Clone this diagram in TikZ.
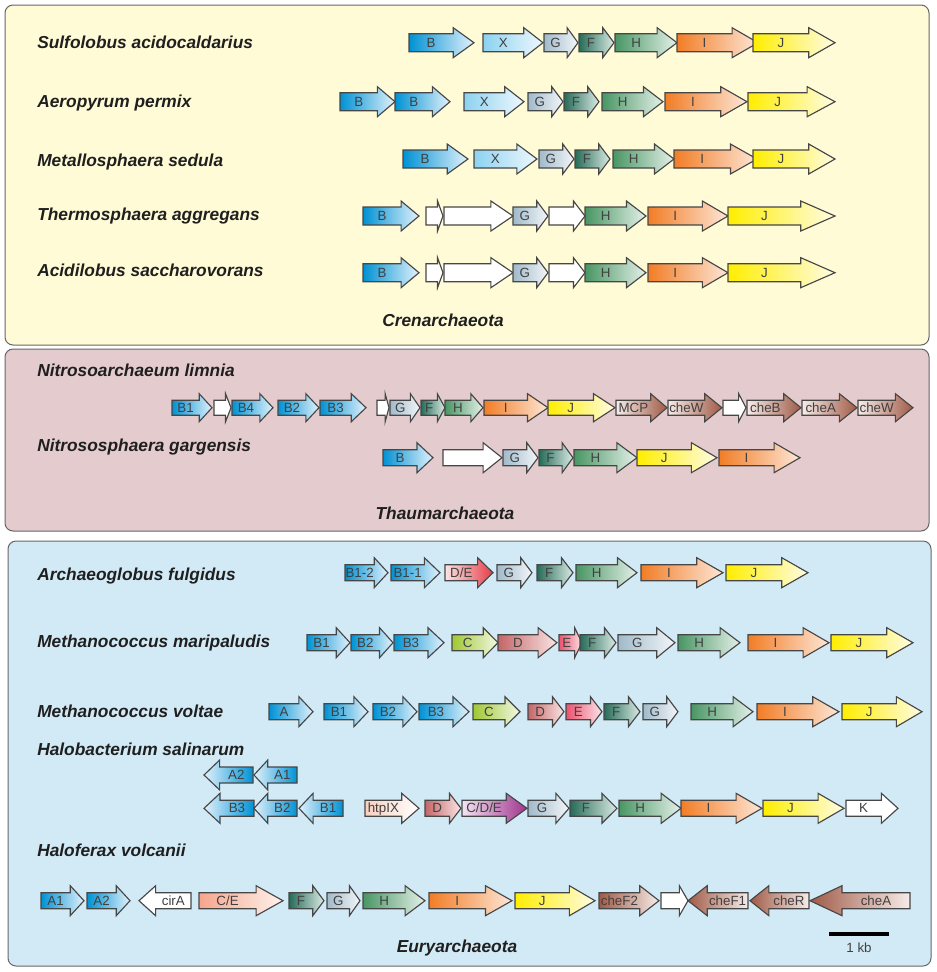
\documentclass[tikz,border=0pt]{standalone}
\usepackage{fontspec}
\setmainfont{Liberation Sans}
\definecolor{outline}{RGB}{70,70,70}
\definecolor{crenbg}{RGB}{255,251,214}
\definecolor{thaumbg}{RGB}{228,203,206}
\definecolor{eurybg}{RGB}{210,234,246}
\definecolor{cBd}{RGB}{0,146,212}
\definecolor{cBl}{RGB}{226,241,251}
\definecolor{cXd}{RGB}{140,210,240}
\definecolor{cXl}{RGB}{238,248,253}
\definecolor{cGd}{RGB}{160,186,202}
\definecolor{cGl}{RGB}{243,246,249}
\definecolor{cFd}{RGB}{38,108,88}
\definecolor{cFl}{RGB}{218,234,228}
\definecolor{cHd}{RGB}{72,150,100}
\definecolor{cHl}{RGB}{228,240,232}
\definecolor{cId}{RGB}{242,125,38}
\definecolor{cIl}{RGB}{253,230,214}
\definecolor{cJd}{RGB}{255,238,0}
\definecolor{cJl}{RGB}{255,252,228}
\definecolor{cCd}{RGB}{160,200,50}
\definecolor{cCl}{RGB}{242,248,228}
\definecolor{cDd}{RGB}{196,102,104}
\definecolor{cDl}{RGB}{251,228,228}
\definecolor{cEd}{RGB}{236,82,110}
\definecolor{cEl}{RGB}{251,228,232}
\definecolor{cDEd}{RGB}{230,60,72}
\definecolor{cCDEd}{RGB}{160,52,142}
\definecolor{cCDEl}{RGB}{242,228,242}
\definecolor{cHtp}{RGB}{248,208,192}
\definecolor{cCEd}{RGB}{245,165,140}
\definecolor{cCEl}{RGB}{254,242,237}
\definecolor{cChed}{RGB}{160,90,70}
\definecolor{cChel}{RGB}{246,236,233}
\newcommand{\genebody}{9}
\newcommand{\genehead}{15}
\newcommand{\gene}[6]{%
  \pgfmathsetmacro{\genelen}{#3-(#2)}%
  \pgfmathsetmacro{\genetip}{#3-0.32*\genelen}%
  \path[gene,#5] (#2,#4-\genebody) -- (\genetip,#4-\genebody) -- (\genetip,#4-\genehead)
    -- (#3,#4) -- (\genetip,#4+\genehead) -- (\genetip,#4+\genebody) -- (#2,#4+\genebody) -- cycle;
  \node[genetext] (#1) at ({(#2+\genetip)/2},#4+4.5) {#6};}

\begin{document}
\begin{tikzpicture}[x=0.75pt,y=-0.75pt,
        panel/.style={draw=black!60,line width=0.75pt,rounded corners=6pt},
        species/.style={anchor=base west,inner sep=0pt,text=black!88,
          font=\fontsize{13}{15}\selectfont\bfseries\itshape},
        phylum/.style={species,anchor=base},
        gene/.style={draw=outline,line width=0.85pt},
        genetext/.style={anchor=base,inner sep=0pt,text=black!75,font=\fontsize{10}{11}\selectfont},
        gB/.style={left color=cBd,right color=cBl},
        gBr/.style={left color=cBl,right color=cBd},
        gX/.style={left color=cXd,right color=cXl},
        gG/.style={left color=cGd,right color=cGl},
        gF/.style={left color=cFd,right color=cFl},
        gH/.style={left color=cHd,right color=cHl},
        gI/.style={left color=cId,right color=cIl},
        gJ/.style={left color=cJd,right color=cJl},
        gC/.style={left color=cCd,right color=cCl},
        gD/.style={left color=cDd,right color=cDl},
        gE/.style={left color=cEd,right color=cEl},
        gDE/.style={left color=cDl,right color=cDEd},
        gCDE/.style={left color=cCDEl,right color=cCDEd},
        gHtp/.style={left color=cHtp,right color=white},
        gCE/.style={left color=cCEd,right color=cCEl},
        gChe/.style={left color=cChel,right color=cChed},
        gCheF/.style={left color=cChed,right color=cChel},
        gW/.style={fill=white}]
  \fill[white] (0,0) rectangle (937,972);
  \useasboundingbox (0,0) rectangle (937,972);

  \draw[panel,fill=crenbg] (5,5) rectangle (929,345);
  \draw[panel,fill=thaumbg] (5,349) rectangle (929,531);
  \draw[panel,fill=eurybg] (8,541) rectangle (931,966);

  \begin{scope}
    \def\genebody{9}\def\genehead{15}
    \node[species] (sacido) at (37,48.7) {Sulfolobus acidocaldarius};
    \gene{sa-B}{409}{474}{42.7}{gB}{B}
    \gene{sa-X}{483}{543}{42.7}{gX}{X}
    \gene{sa-G}{544}{578}{42.7}{gG}{G}
    \gene{sa-F}{579}{614}{42.7}{gF}{F}
    \gene{sa-H}{615}{677}{42.7}{gH}{H}
    \gene{sa-I}{677}{758}{42.7}{gI}{I}
    \gene{sa-J}{753}{835}{42.7}{gJ}{J}

    \node[species] (apermix) at (37,107.5) {Aeropyrum permix};
    \gene{ap-B1}{340}{395}{101.7}{gB}{B}
    \gene{ap-B2}{395}{450}{101.7}{gB}{B}
    \gene{ap-X}{464}{524}{101.7}{gX}{X}
    \gene{ap-G}{528}{563}{101.7}{gG}{G}
    \gene{ap-F}{564}{599}{101.7}{gF}{F}
    \gene{ap-H}{602}{663}{101.7}{gH}{H}
    \gene{ap-I}{665}{747}{101.7}{gI}{I}
    \gene{ap-J}{748}{835}{101.7}{gJ}{J}

    \node[species] (msedula) at (37,166.5) {Metallosphaera sedula};
    \gene{ms-B}{403}{468}{159}{gB}{B}
    \gene{ms-X}{474}{537}{159}{gX}{X}
    \gene{ms-G}{539}{574}{159}{gG}{G}
    \gene{ms-F}{575}{610}{159}{gF}{F}
    \gene{ms-H}{613}{674}{159}{gH}{H}
    \gene{ms-I}{674}{757}{159}{gI}{I}
    \gene{ms-J}{753}{835}{159}{gJ}{J}

    \node[species] (taggr) at (37,220.5) {Thermosphaera aggregans};
    \gene{ta-B}{363}{419}{216}{gB}{B}
    \gene{ta-w1}{426}{443}{216}{gW}{}
    \gene{ta-w2}{444}{513}{216}{gW}{}
    \gene{ta-G}{513}{548}{216}{gG}{G}
    \gene{ta-w3}{549}{585}{216}{gW}{}
    \gene{ta-H}{585}{646}{216}{gH}{H}
    \gene{ta-I}{648}{728}{216}{gI}{I}
    \gene{ta-J}{728}{835}{216}{gJ}{J}

    \node[species] (asacch) at (37,276.5) {Acidilobus saccharovorans};
    \gene{as-B}{363}{419}{272.7}{gB}{B}
    \gene{as-w1}{426}{443}{272.7}{gW}{}
    \gene{as-w2}{444}{513}{272.7}{gW}{}
    \gene{as-G}{513}{548}{272.7}{gG}{G}
    \gene{as-w3}{549}{585}{272.7}{gW}{}
    \gene{as-H}{585}{646}{272.7}{gH}{H}
    \gene{as-I}{648}{728}{272.7}{gI}{I}
    \gene{as-J}{728}{835}{272.7}{gJ}{J}

    \node[phylum] (cren) at (443,326) {Crenarchaeota};
  \end{scope}

  \begin{scope}
    \def\genebody{7.5}\def\genehead{14}
    \node[species] (nlimnia) at (37,376) {Nitrosoarchaeum limnia};
    \gene{nl-B1}{172}{212}{407.7}{gB}{B1}
    \gene{nl-w1}{214}{231}{407.7}{gW}{}
    \gene{nl-B4}{232}{273}{407.7}{gB}{B4}
    \gene{nl-B2}{278}{319}{407.7}{gB}{B2}
    \gene{nl-B3}{320}{366}{407.7}{gB}{B3}
    \gene{nl-w2}{377}{389}{407.7}{gW}{}
    \gene{nl-G}{390}{420}{407.7}{gG}{G}
    \gene{nl-F}{421}{445}{407.7}{gF}{F}
    \gene{nl-H}{445}{483}{407.7}{gH}{H}
    \gene{nl-I}{484}{548}{407.7}{gI}{I}
    \gene{nl-J}{548}{615}{407.7}{gJ}{J}
    \gene{nl-MCP}{616}{667}{407.7}{gChe}{MCP}
    \gene{nl-cheW1}{668}{722}{407.7}{gChe}{cheW}
    \gene{nl-w3}{723}{746}{407.7}{gW}{}
    \gene{nl-cheB}{747}{801}{407.7}{gChe}{cheB}
    \gene{nl-cheA}{802}{857}{407.7}{gChe}{cheA}
    \gene{nl-cheW2}{858}{913}{407.7}{gChe}{cheW}

    \def\genebody{8}\def\genehead{15}
    \node[species] (ngarg) at (37,451) {Nitrososphaera gargensis};
    \gene{ng-B}{383}{433}{457.7}{gB}{B}
    \gene{ng-w}{443}{502}{457.7}{gW}{}
    \gene{ng-G}{503}{538}{457.7}{gG}{G}
    \gene{ng-F}{539}{573}{457.7}{gF}{F}
    \gene{ng-H}{574}{637}{457.7}{gH}{H}
    \gene{ng-J}{637}{717}{457.7}{gJ}{J}
    \gene{ng-I}{719}{800}{457.7}{gI}{I}

    \node[phylum] (thaum) at (445,519) {Thaumarchaeota};
  \end{scope}

  \begin{scope}
    \def\genebody{8}\def\genehead{15}
    \node[species] (afulg) at (37,580) {Archaeoglobus fulgidus};
    \gene{af-B12}{345}{388}{572.7}{gB}{B1-2}
    \gene{af-B11}{391}{440}{572.7}{gB}{B1-1}
    \gene{af-DE}{445}{493}{572.7}{gDE}{D/E}
    \gene{af-G}{497}{532}{572.7}{gG}{G}
    \gene{af-F}{537}{573}{572.7}{gF}{F}
    \gene{af-H}{576}{637}{572.7}{gH}{H}
    \gene{af-I}{641}{723}{572.7}{gI}{I}
    \gene{af-J}{726}{808}{572.7}{gJ}{J}

    \node[species] (mmarip) at (37,647) {Methanococcus maripaludis};
    \gene{mm-B1}{307}{350}{642.7}{gB}{B1}
    \gene{mm-B2}{351}{393}{642.7}{gB}{B2}
    \gene{mm-B3}{394}{444}{642.7}{gB}{B3}
    \gene{mm-C}{452}{498}{642.7}{gC}{C}
    \gene{mm-D}{498}{557}{642.7}{gD}{D}
    \gene{mm-E}{559}{582}{642.7}{gE}{E}
    \gene{mm-F}{580}{616}{642.7}{gF}{F}
    \gene{mm-G}{618}{675}{642.7}{gG}{G}
    \gene{mm-H}{678}{740}{642.7}{gH}{H}
    \gene{mm-I}{748}{829}{642.7}{gI}{I}
    \gene{mm-J}{831}{913}{642.7}{gJ}{J}

    \node[species] (mvolt) at (37,717) {Methanococcus voltae};
    \gene{mv-A}{269}{313}{711.7}{gB}{A}
    \gene{mv-B1}{324}{368}{711.7}{gB}{B1}
    \gene{mv-B2}{373}{417}{711.7}{gB}{B2}
    \gene{mv-B3}{419}{469}{711.7}{gB}{B3}
    \gene{mv-C}{473}{520}{711.7}{gC}{C}
    \gene{mv-D}{528}{564}{711.7}{gD}{D}
    \gene{mv-E}{566}{602}{711.7}{gE}{E}
    \gene{mv-F}{604}{640}{711.7}{gF}{F}
    \gene{mv-G}{643}{678}{711.7}{gG}{G}
    \gene{mv-H}{691}{753}{711.7}{gH}{H}
    \gene{mv-I}{757}{839}{711.7}{gI}{I}
    \gene{mv-J}{842}{922}{711.7}{gJ}{J}

    \node[species] (hsalin) at (37,755) {Halobacterium salinarum};
    \gene{hs-A2}{253}{204}{775}{gBr}{A2}
    \gene{hs-A1}{297}{254}{775}{gBr}{A1}
    \gene{hs-B3}{254}{204}{808.3}{gBr}{B3}
    \gene{hs-B2}{297}{254}{808.3}{gBr}{B2}
    \gene{hs-B1}{343}{299}{808.3}{gBr}{B1}
    \gene{hs-htpIX}{365}{419}{808.3}{gHtp}{htpIX}
    \gene{hs-D}{425}{461}{808.3}{gD}{D}
    \gene{hs-CDE}{462}{527}{808.3}{gCDE}{C/D/E}
    \gene{hs-G}{528}{569}{808.3}{gG}{G}
    \gene{hs-F}{570}{617}{808.3}{gF}{F}
    \gene{hs-H}{619}{681}{808.3}{gH}{H}
    \gene{hs-I}{681}{762}{808.3}{gI}{I}
    \gene{hs-J}{763}{844}{808.3}{gJ}{J}
    \gene{hs-K}{846}{898}{808.3}{gW}{K}

    \node[species] (hvolc) at (37,856) {Haloferax volcanii};
    \gene{hv-A1}{41}{84}{900.7}{gB}{A1}
    \gene{hv-A2}{87}{130}{900.7}{gB}{A2}
    \gene{hv-cirA}{191}{139}{900.7}{gW}{cirA}
    \gene{hv-CE}{199}{283}{900.7}{gCE}{C/E}
    \gene{hv-F}{289}{324}{900.7}{gF}{F}
    \gene{hv-G}{327}{360}{900.7}{gG}{G}
    \gene{hv-H}{363}{425}{900.7}{gH}{H}
    \gene{hv-I}{429}{512}{900.7}{gI}{I}
    \gene{hv-J}{515}{595}{900.7}{gJ}{J}
    \gene{hv-cheF2}{599}{659}{900.7}{gCheF}{cheF2}
    \gene{hv-w}{661}{688}{900.7}{gW}{}
    \gene{hv-cheF1}{748}{688}{900.7}{gCheF}{cheF1}
    \gene{hv-cheR}{809}{750}{900.7}{gCheF}{cheR}
    \gene{hv-cheA}{910}{810}{900.7}{gCheF}{cheA}

    \node[phylum] (eury) at (457,952) {Euryarchaeota};
  \end{scope}

  \coordinate (kb0) at (829,934);
  \coordinate (kb1) at (889,934);
  \draw[line width=3pt] (kb0) -- (kb1);
  \node[genetext] (kb) at (859,952) {1 kb};
\end{tikzpicture}
\end{document}
